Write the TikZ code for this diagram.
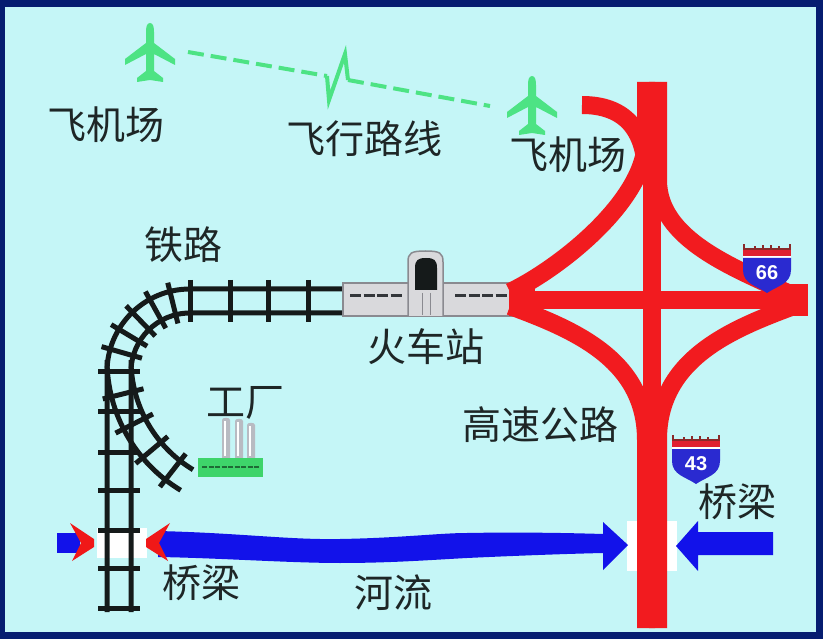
\documentclass[tikz,border=0pt]{standalone}
\usepackage{fontspec}
\newfontfamily\cjk{Noto Sans CJK SC}
\newfontfamily\shieldfont{Liberation Sans}
\usetikzlibrary{calc}

\definecolor{framec}{HTML}{061D70}
\definecolor{bgc}{HTML}{C5F6F7}
\definecolor{roadc}{HTML}{F21B1F}
\definecolor{railc}{HTML}{151A1A}
\definecolor{planec}{HTML}{4DE384}
\definecolor{riverc}{HTML}{1212EA}
\definecolor{txtc}{HTML}{1E2626}
\definecolor{stfill}{HTML}{D9D9DC}
\definecolor{stedge}{HTML}{8A8A90}
\definecolor{winc}{HTML}{33363A}
\definecolor{shieldblue}{HTML}{2A2AD0}
\definecolor{shieldred}{HTML}{E02030}
\definecolor{crownc}{HTML}{8A2A2A}
\definecolor{factc}{HTML}{3ED46A}
\definecolor{factdark}{HTML}{1E6A35}
\definecolor{chimc}{HTML}{B8BBC2}
\definecolor{bridgered}{HTML}{F01818}

\tikzset{
  rail/.style={draw=railc, line width=5pt, line cap=butt},
  tie/.style={draw=railc, line width=5pt, line cap=butt},
  road/.style={draw=roadc, line width=18pt, line cap=butt},
  flight/.style={draw=planec, line width=4pt, dash pattern=on 16pt off 7pt},
  lbl/.style={font=\cjk\fontsize{39}{40}\selectfont, text=txtc, inner sep=0pt},
  pics/plane/.style={code={
    \fill[planec] (0,-29) .. controls (3.5,-29) and (4,-24) .. (4,-20) -- (4,-9)
      -- (25,7) -- (25,13) -- (4,2) -- (4,19) -- (13,26) -- (13,30) -- (0,28)
      -- (-13,30) -- (-13,26) -- (-4,19) -- (-4,2) -- (-25,13) -- (-25,7)
      -- (-4,-9) -- (-4,-20) .. controls (-4,-24) and (-3.5,-29) .. (0,-29) -- cycle;
  }},
  pics/shield/.style={code={
    \draw[crownc, line width=1.2pt] (-23,-17) -- (23,-17);
    \foreach \cx/\ch in {-23/-22,-12/-20,-4/-21,4/-21,12/-20,23/-22}
      \draw[crownc, line width=1.6pt] (\cx,-16) -- (\cx,\ch);
    \fill[shieldred] (-24,-16) rectangle (24,-10);
    \fill[white] (-24,-10) rectangle (24,-8);
    \fill[shieldblue] (-24,-8) -- (24,-8) -- (24,4) .. controls (24,18) and (10,20) .. (0,27)
      .. controls (-10,20) and (-24,18) .. (-24,4) -- cycle;
    \node[text=white, font=\shieldfont\bfseries\fontsize{20}{20}\selectfont, inner sep=0pt]
      at (0,7) {#1};
  }}
}

\begin{document}
\begin{tikzpicture}[x=1pt, y=-1pt]
\useasboundingbox (0,0) rectangle (823,639);
\fill[framec] (0,0) rectangle (823,639);
\fill[bgc] (5,7) rectangle (816,632);

% ---------- airports and flight path ----------
\pic at (150,52) {plane};
\pic at (532,105) {plane};
\coordinate (fpstart) at (188,52);
\coordinate (kinka) at (327,76);
\coordinate (kinkb) at (329,100);
\coordinate (kinkc) at (345,54);
\coordinate (kinkd) at (348,80);
\coordinate (fpend) at (490,106);
\draw[flight] (fpstart) -- (kinka);
\draw[planec, line width=4pt, line join=miter] (kinka) -- (kinkb) -- (kinkc) -- (kinkd);
\draw[flight] (kinkd) -- (fpend);

% ---------- river and bridges ----------
\fill[white] (97,528) rectangle (147,558);
\fill[white] (627,521) rectangle (677,571);
\fill[riverc] (57,533) rectangle (80,553);
\fill[riverc] (158,531) .. controls (240,533) and (290,540) .. (340,539)
  .. controls (400,538) and (440,533) .. (467,533)
  .. controls (520,532) and (570,533) .. (603,534)
  -- (603,522) -- (628,545) -- (603,570) -- (603,553)
  .. controls (560,554) and (510,556) .. (467,558)
  .. controls (430,560) and (390,563) .. (340,563)
  .. controls (290,563) and (220,558) .. (158,557) -- cycle;
\fill[riverc] (773,532) -- (698,532) -- (698,521) -- (676,546) -- (698,571)
  -- (698,555) -- (773,555) -- cycle;

% ---------- railway: branch line ----------
\draw[rail] (107,360) arc[start angle=180, end angle=121, radius=152];
\draw[rail] (131,360) arc[start angle=180, end angle=121, radius=128];
\foreach \a in {166,153,140,128}
  \draw[tie, shift={(259,360)}] (\a:119) -- (\a:161);

% ---------- railway: main line ----------
\draw[rail] (345,289) -- (190,289) arc[start angle=270, end angle=180, radius=83] -- (107,612);
\draw[rail] (345,313) -- (190,313) arc[start angle=270, end angle=180, radius=59] -- (131,612);
\foreach \tx in {190,230,268,308}
  \draw[tie] (\tx,280) -- (\tx,322);
\foreach \a in {256,241,226,211,196}
  \draw[tie, shift={(190,372)}] (\a:50) -- (\a:92);
\foreach \ty in {372,412,452,490,530,568,608}
  \draw[tie] (98,\ty) -- (140,\ty);

% bridge markers on the railway crossing
\fill[bridgered] (70,523) -- (94,539) -- (94,547) -- (72,561) -- (81,543) -- cycle;
\fill[bridgered] (170,523) -- (146,539) -- (146,547) -- (168,561) -- (159,543) -- cycle;

% ---------- station ----------
\filldraw[fill=stfill, draw=stedge, line width=1.5pt] (343,283) rectangle (512,316);
\draw[winc, line width=3pt, dash pattern=on 11pt off 2.5pt] (350,296) -- (402,296);
\draw[winc, line width=3pt, dash pattern=on 11pt off 2.5pt] (455,296) -- (507,296);
\filldraw[fill=stfill, draw=stedge, line width=1.5pt] (408,316) -- (408,262)
  .. controls (408,253) and (411,251) .. (425.5,251) .. controls (440,251) and (443,253) .. (443,262)
  -- (443,316);
\fill[railc] (415,290) -- (415,268) .. controls (415,260) and (418,258) .. (426,258)
  .. controls (434,258) and (437,260) .. (437,268) -- (437,290) -- cycle;
\draw[stedge, line width=1pt] (422,293) -- (422,315) (430,293) -- (430,315);

% ---------- factory ----------
\foreach \cx/\ct in {222/417,235/418,247/422}{
  \fill[chimc] (\cx,458) -- (\cx,\ct+3) .. controls (\cx,\ct) and (\cx+8,\ct) .. (\cx+8,\ct+3) -- (\cx+8,458) -- cycle;
  \draw[white, line width=1.5pt] (\cx+3,\ct+4) -- (\cx+3,456);
}
\fill[factc] (198,458) rectangle (263,477);
\draw[factdark, line width=2pt, dash pattern=on 5pt off 1.5pt] (202,467) -- (259,467);

% ---------- highway interchange ----------
\begin{scope}[road]
  \draw (510,292) .. controls (560,268) and (646,200) .. (646,140) -- (646,82);
  \draw (790,294) .. controls (735,268) and (658,240) .. (658,180) -- (658,82);
  \draw (510,306) .. controls (575,330) and (646,360) .. (646,440) -- (646,628);
  \draw (794,306) .. controls (729,330) and (658,360) .. (658,440) -- (658,628);
  \draw (582,105) .. controls (625,105) and (646,130) .. (646,175);
  \draw (652,82) -- (652,628);
  \draw (510,300) -- (808,300);
  \fill[roadc] (509,284) rectangle (535,316);
  \fill[roadc] (782,284) rectangle (808,316);
\end{scope}

% route shields
\pic at (767,266) {shield=66};
\pic at (696,457) {shield=43};

% ---------- labels ----------
\node[lbl] (airporta) at (106,125) {飞机场};
\node[lbl] (flightpath) at (364,139) {飞行路线};
\node[lbl] (airportb) at (568,155) {飞机场};
\node[lbl] (railway) at (183,245) {铁路};
\node[lbl] (station) at (426,347) {火车站};
\node[lbl] (factory) at (245,403) {工厂};
\node[lbl] (highway) at (540,425) {高速公路};
\node[lbl] (bridgeb) at (737,502) {桥梁};
\node[lbl] (bridgea) at (201,583) {桥梁};
\node[lbl] (river) at (393,593) {河流};
\end{tikzpicture}
\end{document}
